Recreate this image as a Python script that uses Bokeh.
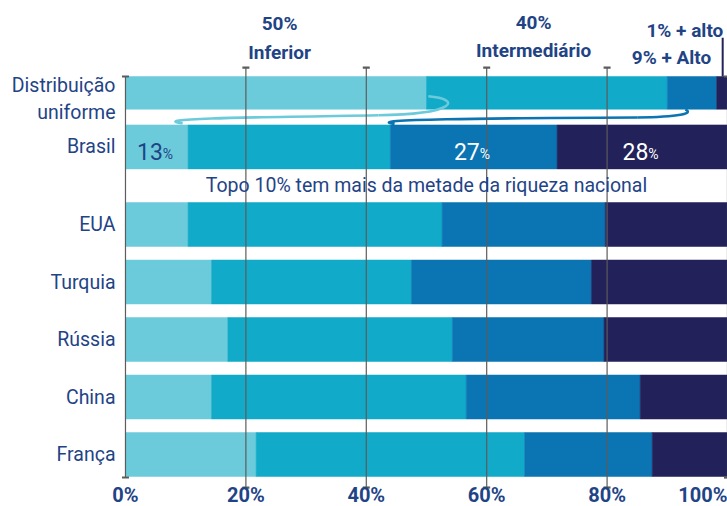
from bokeh.plotting import figure
from bokeh.models import ColumnDataSource, Range1d
from bokeh.core.properties import value
from bokeh.embed import file_html
from bokeh.resources import INLINE

# ---- data ----
countries = ["Distribuição\nuniforme", "Brasil", "EUA", "Turquia", "Rússia", "China", "França"]
bottom50 = [50.0, 10.4, 10.4, 14.3, 17.0, 14.3, 21.7]
middle40 = [40.0, 33.6, 42.2, 33.2, 37.3, 42.3, 44.6]
next9 = [8.2, 27.7, 27.1, 29.9, 25.2, 28.9, 21.2]
top1 = [1.8, 28.3, 20.3, 22.6, 20.5, 14.5, 12.5]
brasil_labels = [13, None, 27, 28]
group_labels = ["50%\nInferior", "40%\nIntermediário", "1% + alto", "9% + Alto"]
ticks = [0, 20, 40, 60, 80, 100]
tick_labels = ["0%", "20%", "40%", "60%", "80%", "100%"]
note = "Topo 10% tem mais da metade da riqueza nacional"

# ---- layout (row positions / heights) ----
row_y = [6.29, 5.35, 4.0, 3.0, 2.0, 1.0, 0.0]
row_h = [0.57, 0.765, 0.765, 0.765, 0.765, 0.765, 0.765]

colors = ["#6ccbdb", "#11aac8", "#0b74b2", "#22215a"]
txt = "#1f4486"
grid_c = "#5c5c5c"
FONT = value("Roboto")

p = figure(width=727, height=506, x_range=Range1d(-20.76, 100), y_range=Range1d(-0.904, 7.896),
           output_backend="svg", toolbar_location=None, x_axis_type=None, y_axis_type=None,
           min_border=0)
p.outline_line_color = None
p.border_fill_color = "white"

# stacked bars
series = [bottom50, middle40, next9, top1]
left = [0.0] * len(countries)
seg_bounds = []
for vals, c in zip(series, colors):
    right = [l + v for l, v in zip(left, vals)]
    src = ColumnDataSource(dict(y=row_y, h=row_h, left=left, right=right))
    p.hbar(y="y", height="h", left="left", right="right", source=src,
           fill_color=c, line_color=c, line_width=0.5)
    seg_bounds.append((left, right))
    left = right

# curved connectors (uniform -> Brasil)
u_light_end = seg_bounds[0][1][0]
b_light_end = seg_bounds[0][1][1]
u_dark_start = seg_bounds[2][0][0]
b_dark_start = seg_bounds[2][0][1]
yu = row_y[0]
yb = row_y[1]
p.bezier(x0=[u_light_end + 0.3, u_light_end - 8], y0=[yu - 0.06, yu - 0.39],
         x1=[u_light_end - 8, b_light_end - 0.9], y1=[yu - 0.39, yb + 0.41],
         cx0=[u_light_end + 6, u_light_end - 25], cy0=[yu - 0.11, yu - 0.42],
         cx1=[u_light_end + 5, b_light_end - 7.5], cy1=[yu - 0.37, yb + 0.5],
         line_color=colors[0], line_width=2.6)
p.bezier(x0=[u_dark_start + 3, u_dark_start - 5], y0=[yu - 0.29, yu - 0.43],
         x1=[u_dark_start - 5, b_dark_start + 0.7], y1=[yu - 0.43, yb + 0.4],
         cx0=[u_dark_start + 4.5, u_dark_start - 30], cy0=[yu - 0.36, yu - 0.44],
         cx1=[u_dark_start + 2, b_dark_start - 5], cy1=[yu - 0.42, yb + 0.48],
         line_color=colors[2], line_width=2.6)

# grid lines with caps
inner = ticks[1:-1]
p.segment(x0=inner, y0=[6.73] * len(inner), x1=inner, y1=[-0.574] * len(inner),
          line_color=grid_c, line_width=1.2)
edge = [ticks[0], ticks[-1]]
p.segment(x0=edge, y0=[6.574] * 2, x1=edge, y1=[-0.40] * 2, line_color=grid_c, line_width=1.2)
p.scatter(x=inner * 2, y=[6.73] * len(inner) + [-0.574] * len(inner), marker="dash",
          size=7, line_color=grid_c, line_width=2.2)
p.scatter(x=edge * 2, y=[6.574] * 2 + [-0.40] * 2, marker="dash",
          size=7, line_color=grid_c, line_width=2.2)

# leader line for top 1%
p.segment(x0=[99.2], y0=[7.25], x1=[99.2], y1=[row_y[0] + row_h[0] / 2],
          line_color=colors[3], line_width=2)

# country labels
p.text(x=[-1.66] * len(countries), y=[6.184] + row_y[1:], text=countries,
       text_font=FONT, text_font_size="19.5px", text_color=txt,
       text_align="right", text_baseline="middle", text_line_height=1.2)

# group labels on top
p.text(x=[25.6, 67.8], y=[7.24, 7.27], text=group_labels[:2], text_font=FONT,
       text_font_size="19px", text_font_style="bold", text_color=txt,
       text_align="center", text_baseline="middle", text_line_height=1.25)
p.text(x=[99.3, 97.3], y=[7.374, 6.904], text=group_labels[2:], text_font=FONT,
       text_font_size="19px", text_font_style="bold", text_color=txt,
       text_align="right", text_baseline="middle")

# note
p.text(x=[50], y=[4.678], text=[note], text_font=FONT, text_font_size="19.5px",
       text_color=txt, text_align="center", text_baseline="middle")

# Brasil value labels
lx, ln, lc = [], [], []
for i, v in enumerate(brasil_labels):
    if v is None:
        continue
    lo, hi = seg_bounds[i][0][1], seg_bounds[i][1][1]
    lx.append((lo + hi) / 2 + 1.0)
    ln.append(str(v))
    lc.append(txt if i == 0 else "white")
p.text(x=lx, y=[5.27] * len(lx), text=ln, text_font=FONT, text_font_size="23px",
       text_color=lc, text_align="right", text_baseline="middle")
p.text(x=lx, y=[5.22] * len(lx), text=["%"] * len(lx), text_font=FONT, text_font_size="14px",
       text_color=lc, text_align="left", text_baseline="middle")

# x tick labels
p.text(x=ticks, y=[-0.70] * len(ticks), text=tick_labels, text_font=FONT,
       text_font_size="20px", text_font_style="bold", text_color=txt,
       text_align=["center"] * (len(ticks) - 1) + ["right"], text_baseline="middle")

open("out.html", "w").write(file_html(p, INLINE))
